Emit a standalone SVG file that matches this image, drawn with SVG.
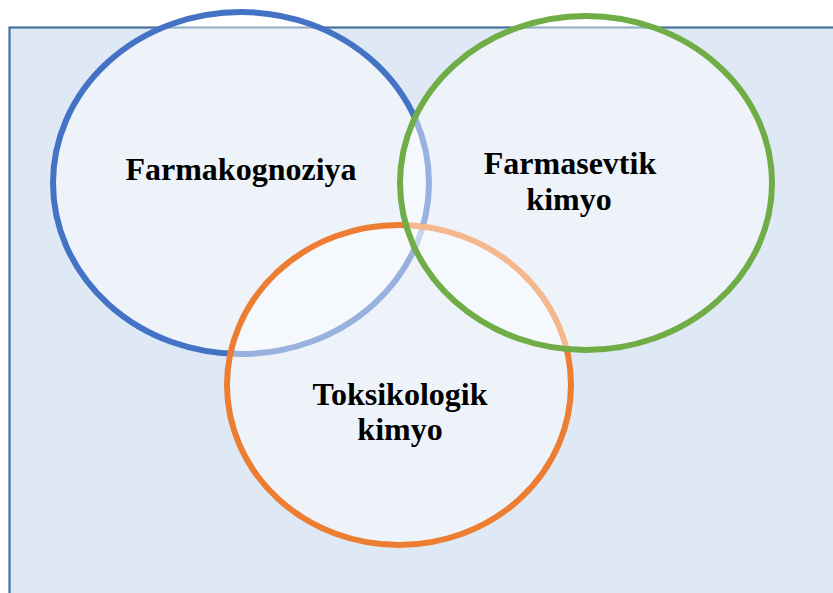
<svg xmlns="http://www.w3.org/2000/svg" width="833" height="593" viewBox="0 0 833 593">
  <style>
    .bg { fill: #dee9f5; stroke: #44729f; stroke-width: 2.2; }
    .set { fill: #ffffff; fill-opacity: 0.45; stroke-width: 6; }
    .lbl { font-family: "Liberation Serif", "Times New Roman", serif; font-weight: bold; font-size: 32px; fill: #000000; text-anchor: middle; }
  </style>
  <rect x="0" y="0" width="833" height="593" fill="#ffffff"/>
  <rect class="bg" x="9.5" y="27.5" width="840" height="600"/>
  <g id="farmakognoziya">
    <ellipse class="set" cx="241" cy="183" rx="188" ry="171" stroke="#4472c4"/>
  </g>
  <g id="toksikologik-kimyo">
    <ellipse class="set" cx="399" cy="385" rx="172" ry="160" stroke="#ed7d31"/>
  </g>
  <g id="farmasevtik-kimyo">
    <ellipse class="set" cx="586" cy="183" rx="186" ry="167" stroke="#70ad47"/>
  </g>
  <g id="labels">
    <text class="lbl" x="241" y="180">Farmakognoziya</text>
    <text class="lbl" x="570" y="174">Farmasevtik</text>
    <text class="lbl" x="569" y="210">kimyo</text>
    <text class="lbl" x="400" y="405">Toksikologik</text>
    <text class="lbl" x="400" y="440">kimyo</text>
  </g>
  <g id="connectors"></g>
</svg>
